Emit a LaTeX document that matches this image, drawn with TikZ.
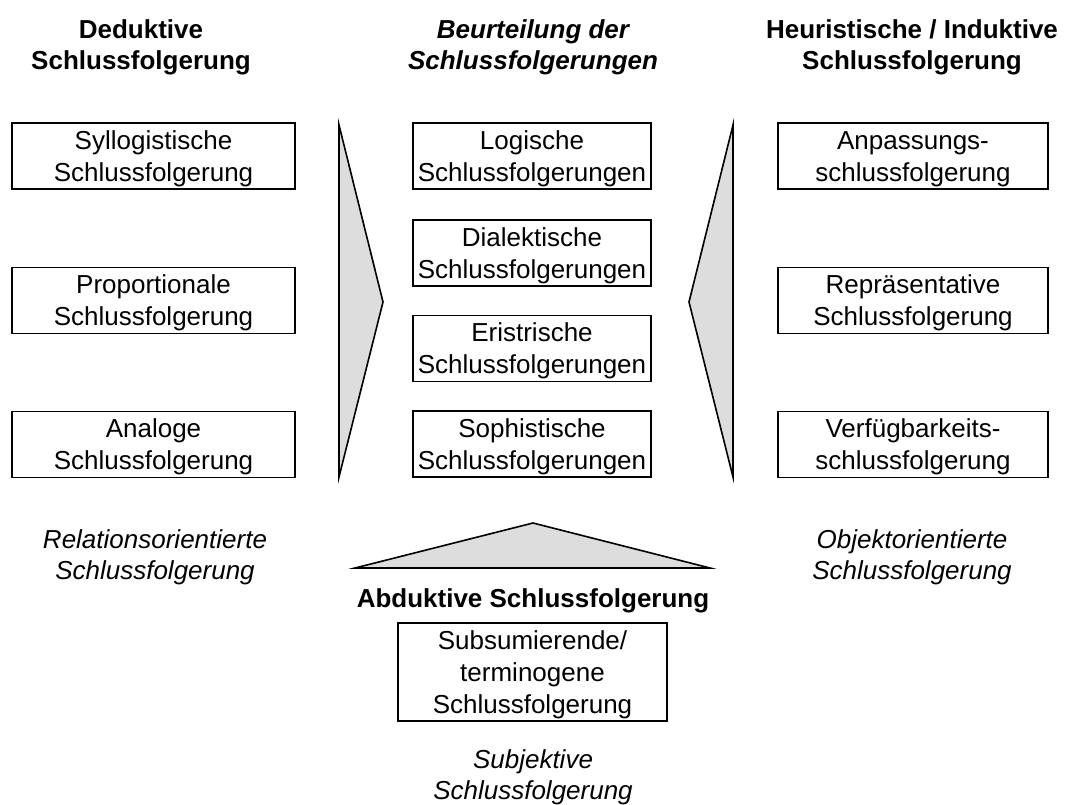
\documentclass[tikz,border=0pt]{standalone}
\usepackage{fontspec}
\setmainfont{Liberation Sans}
\definecolor{wedgefill}{RGB}{221,221,221}
% invisible strut that lowers the text block inside the boxes a little
\newcommand\boxstrut{\rule{0pt}{24pt}}
\begin{document}
\begin{tikzpicture}[x=1pt,y=-1pt,
  every node/.style={font=\fontsize{26}{31}\selectfont, align=center, inner sep=0pt},
  itembox/.style={draw, line width=1.6pt, minimum height=66pt, font=\fontsize{26}{32}\selectfont},
  leftbox/.style={itembox, minimum width=283pt},
  midbox/.style={itembox, minimum width=238pt},
  rightbox/.style={itembox, minimum width=270pt},
  heading/.style={font=\fontsize{26}{31}\selectfont\bfseries},
  caption/.style={font=\fontsize{26}{31}\selectfont\itshape},
  wedge/.style={draw, line width=1.6pt, fill=wedgefill, line join=miter}
]
\useasboundingbox (0,0) rectangle (1065,805);

% column headings
\node[heading] (hded) at (141,47) {Deduktive\\Schlussfolgerung};
\node[heading, font=\fontsize{26}{31}\selectfont\bfseries\itshape] (hbeu) at (533,47) {Beurteilung der\\Schlussfolgerungen};
\node[heading] (hind) at (912,47) {Heuristische / Induktive\\Schlussfolgerung};

% deductive column
\node[leftbox] (d1) at (153.5,156) {\boxstrut Syllogistische\\Schlussfolgerung};
\node[leftbox] (d2) at (153.5,300.5) {\boxstrut Proportionale\\Schlussfolgerung};
\node[leftbox] (d3) at (153.5,444.5) {\boxstrut Analoge\\Schlussfolgerung};
\node[caption] (dcap) at (155,557) {Relationsorientierte\\Schlussfolgerung};

% evaluation column
\node[midbox] (m1) at (532,156) {\boxstrut Logische\\Schlussfolgerungen};
\node[midbox] (m2) at (532,253) {\boxstrut Dialektische\\Schlussfolgerungen};
\node[midbox] (m3) at (532,348.5) {\boxstrut Eristrische\\Schlussfolgerungen};
\node[midbox] (m4) at (532,444) {\boxstrut Sophistische\\Schlussfolgerungen};

% inductive column
\node[rightbox] (i1) at (913,156) {\boxstrut Anpassungs-\\schlussfolgerung};
\node[rightbox] (i2) at (913,300.5) {\boxstrut Repräsentative\\Schlussfolgerung};
\node[rightbox] (i3) at (913,444.5) {\boxstrut Verfügbarkeits-\\schlussfolgerung};
\node[caption] (icap) at (912,557) {Objektorientierte\\Schlussfolgerung};

% abductive part
\node[heading] (habd) at (533,601) {Abduktive Schlussfolgerung};
\node[itembox, minimum width=269pt, minimum height=98pt] (a1) at (532.5,672) {\boxstrut Subsumierende/\\terminogene\\Schlussfolgerung};
\node[caption] (acap) at (533,777) {Subjektive\\Schlussfolgerung};

% wedges pointing towards the evaluation column
\coordinate (lt) at (339,125);
\coordinate (lb) at (339,477);
\coordinate (lp) at (383,302);
\coordinate (rt) at (733,125);
\coordinate (rb) at (733,477);
\coordinate (rp) at (689,302);
\coordinate (bl) at (355,568);
\coordinate (br) at (710,568);
\coordinate (bp) at (533,523);
\draw[wedge] (lt) -- (lp) -- (lb) -- cycle;
\draw[wedge] (rt) -- (rp) -- (rb) -- cycle;
\draw[wedge] (bl) -- (bp) -- (br) -- cycle;
\end{tikzpicture}
\end{document}
